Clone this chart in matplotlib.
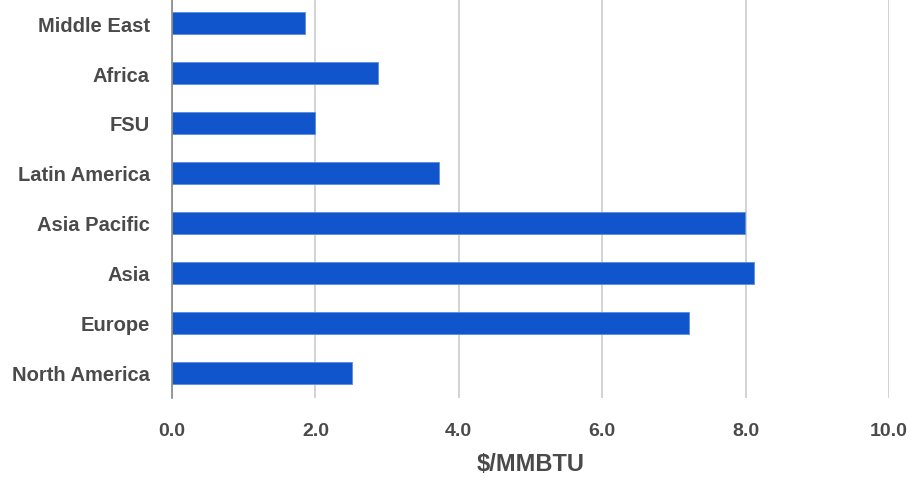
import matplotlib
matplotlib.use("Agg")
import matplotlib.pyplot as plt
from matplotlib import font_manager

regions = ["North America", "Europe", "Asia", "Asia Pacific",
           "Latin America", "FSU", "Africa", "Middle East"]
prices = [2.51, 7.21, 8.12, 7.99, 3.72, 2.00, 2.87, 1.85]
x_ticks = [0, 2, 4, 6, 8, 10]
x_tick_labels = ["0.0", "2.0", "4.0", "6.0", "8.0", "10.0"]
x_label = "$/MMBTU"

installed = {f.name for f in font_manager.fontManager.ttflist}
family = "Liberation Sans Narrow" if "Liberation Sans Narrow" in installed else "Liberation Sans"

text_color = "#4a4a4a"
bar_color = "#1155cc"

fig = plt.figure(figsize=(9.12, 4.81), dpi=100)
ax = fig.add_axes([172 / 912, 1 - 399 / 481, (889 - 172) / 912, 400 / 481])

ax.barh(range(len(regions)), prices, height=0.45, color=bar_color,
        edgecolor="#5b8de0", linewidth=0.6, zorder=3)

ax.set_xlim(0, 10)
ax.set_ylim(-0.5, len(regions) - 0.5)
ax.set_xticks(x_ticks)
ax.set_xticklabels(x_tick_labels)
ax.set_yticks(range(len(regions)))
ax.set_yticklabels(regions)

ax.grid(axis="x", color="#cccccc", linewidth=1.2, zorder=0)
for s in ["top", "right", "bottom"]:
    ax.spines[s].set_visible(False)
ax.spines["left"].set_color("#888888")
ax.spines["left"].set_linewidth(1.2)
ax.spines["left"].set_zorder(4)

ax.tick_params(axis="both", length=0, colors=text_color)
ax.tick_params(axis="x", pad=17)
ax.tick_params(axis="y", pad=16)
for lbl in ax.get_xticklabels():
    lbl.set_fontfamily(family)
    lbl.set_fontweight("bold")
    lbl.set_fontsize(14)
for lbl in ax.get_yticklabels():
    lbl.set_fontfamily(family)
    lbl.set_fontweight("bold")
    lbl.set_fontsize(14.5)

ax.set_xlabel(x_label, fontfamily=family, fontweight="bold", fontsize=17,
              color=text_color, labelpad=10)

fig.savefig("out.png", dpi=100, facecolor="white")
